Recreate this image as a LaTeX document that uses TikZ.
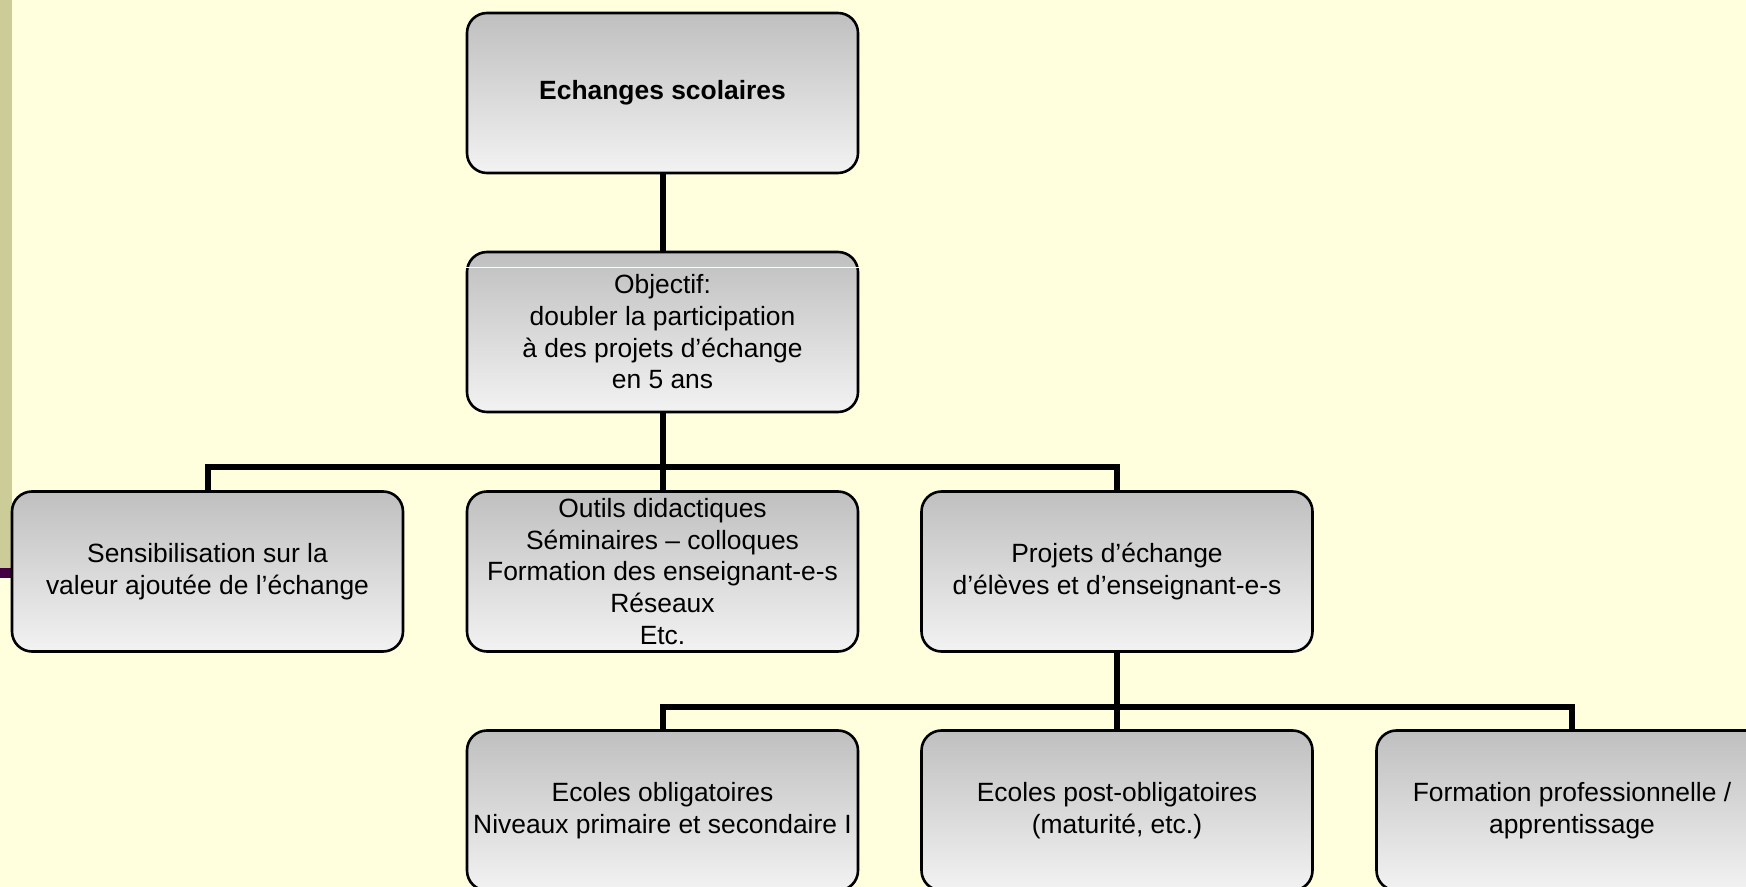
\documentclass[tikz,border=0pt]{standalone}
\usepackage{fontspec}
\setmainfont{Liberation Sans}
\usepackage{xcolor}
\usepackage{tikz}
\usetikzlibrary{positioning}

\definecolor{fond}{RGB}{255,255,222}
\definecolor{bande}{RGB}{204,204,153}
\definecolor{barreviolette}{RGB}{66,0,66}

\begin{document}
\begin{tikzpicture}[x=0.5pt, y=-0.5pt,
			box/.style={draw, rectangle, rounded corners=10pt, line width=1.3pt, align=center, minimum width=195.5pt, minimum height=80pt, inner sep=0pt, top color=black!25, bottom color=black!5, font=\fontsize{13.2}{15.85}\selectfont},
			link/.style={line width=3pt}
			]
			
			% Fond de la diapositive
			\useasboundingbox (0,0) rectangle (1746,887);
			\clip (0,0) rectangle (1746,887);
			\fill[fond] (0,0) rectangle (1746,887);
			\fill[bande] (0,0) rectangle (12,568);
			\fill[barreviolette] (0,568) rectangle (40,578);
			
			% Niveau 1 et 2: Titre et objectif
			\node[box] (echanges) at (662.5, 93)  {\textbf{Echanges scolaires}};
			\node[box] (objectif) at (662.5, 332) {Objectif:\\doubler la participation\\à des projets d’échange\\en 5 ans};
			\draw[fond, line width=0.6pt] ([yshift=-8.5pt]objectif.north west) -- ([yshift=-8.5pt]objectif.north east);
			
			% Niveau 3: Axes d'action
			\node[box] (sensib)  at (207.5, 571.5) {Sensibilisation sur la\\valeur ajoutée de l’échange};
			\node[box] (outils)  at (662.5, 571.5) {Outils didactiques\\Séminaires – colloques\\Formation des enseignant-e-s\\Réseaux\\Etc.};
			\node[box] (projets) at (1117, 571.5)  {Projets d’échange\\d’élèves et d’enseignant-e-s};
			
			% Niveau 4: Types d'écoles
			\node[box] (oblig)   at (662.5, 810.5) {Ecoles obligatoires\\Niveaux primaire et secondaire I};
			\node[box] (postob)  at (1117, 810.5)  {Ecoles post-obligatoires\\(maturité, etc.)};
			\node[box] (formpro) at (1572, 810.5)  {Formation professionnelle /\\apprentissage};
			
			% Points de jonction
			\coordinate (j1) at (662.5, 467);
			\coordinate (j2) at (1117, 707);
			
			% Connexions
			\draw[link] (echanges.south) -- (objectif.north);
			\draw[link] (objectif.south) -- (j1);
			\draw[link] (sensib.north) |- (j1) -| (projets.north);
			\draw[link] (j1) -- (outils.north);
			
			\draw[link] (projets.south) -- (j2);
			\draw[link] (oblig.north) |- (j2) -| (formpro.north);
			\draw[link] (j2) -- (postob.north);
			
		\end{tikzpicture}
\end{document}
